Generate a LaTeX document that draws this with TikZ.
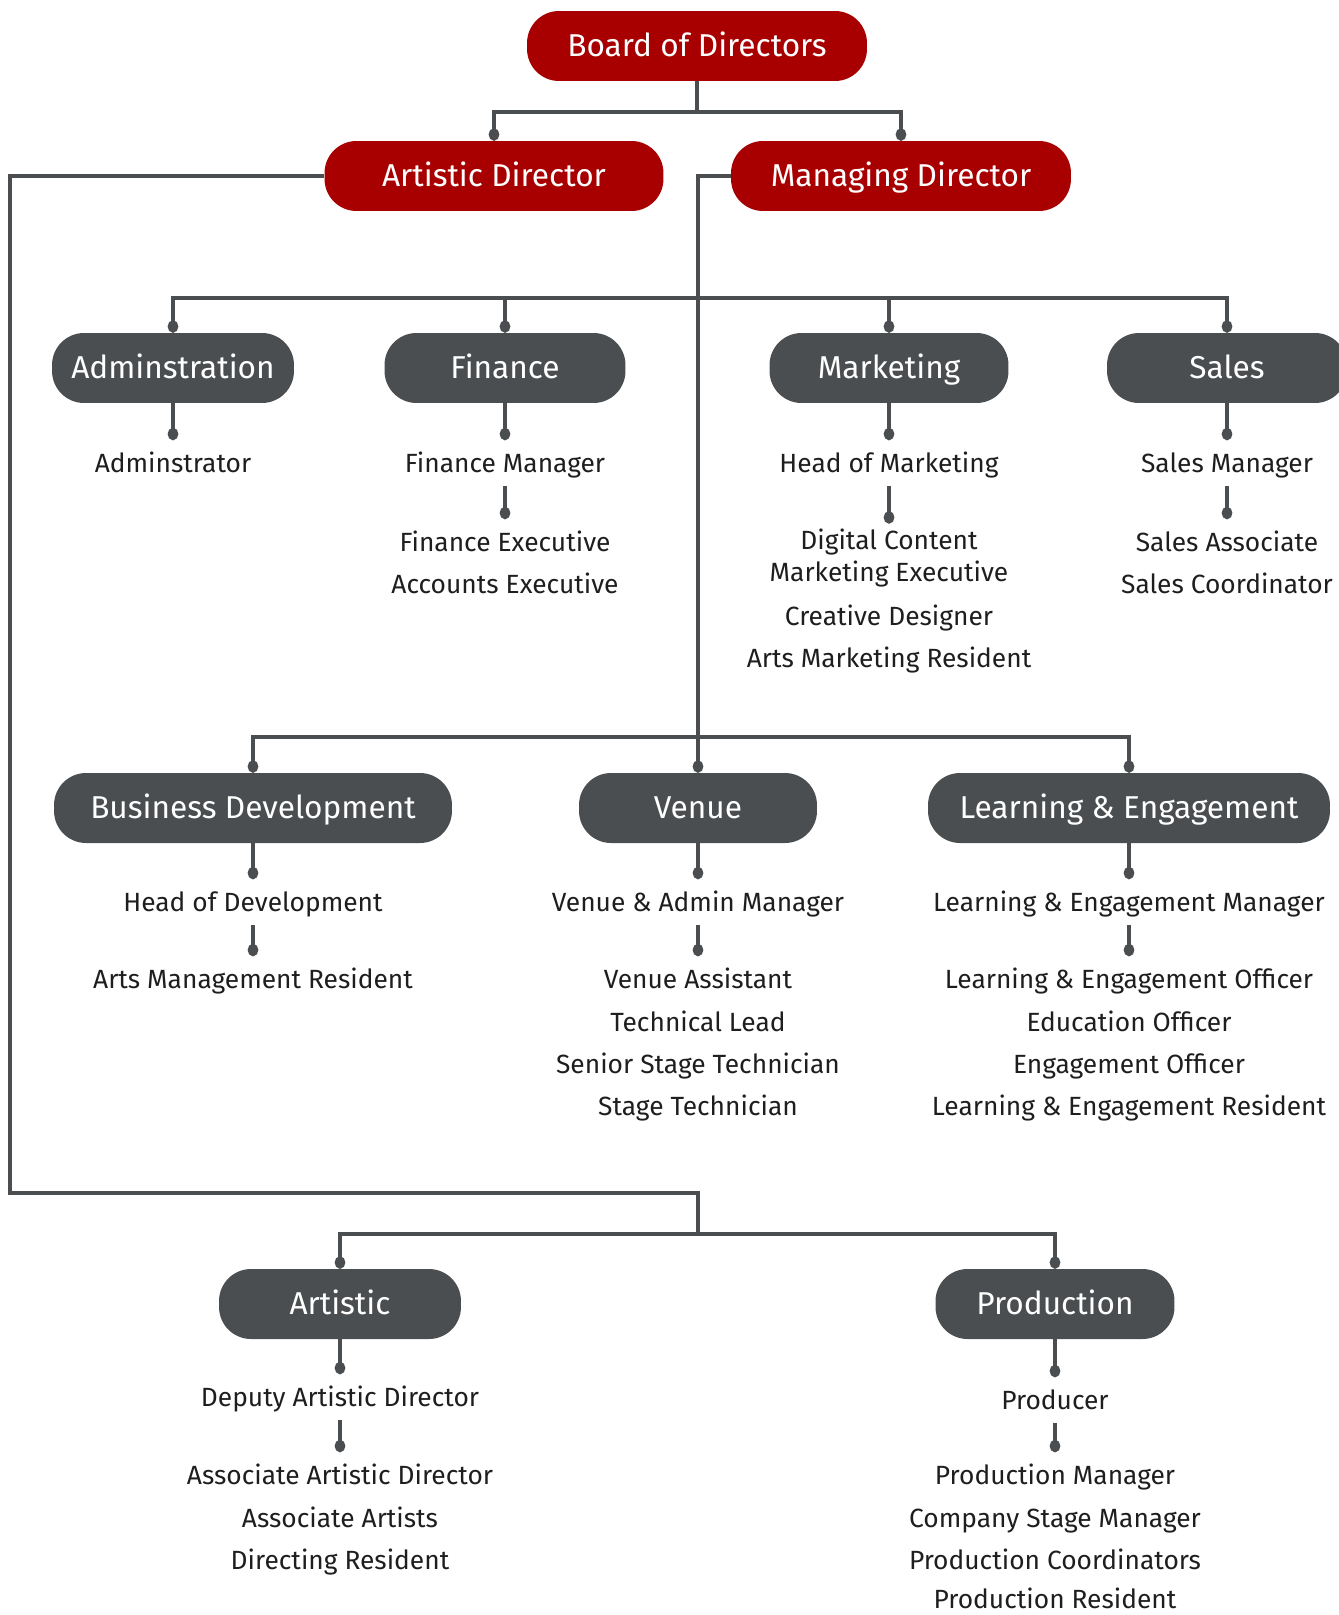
\documentclass[tikz,border=0pt]{standalone}
\usepackage{fontspec}
\setmainfont{Fira Sans}
\usetikzlibrary{arrows.meta,positioning}
\definecolor{boardred}{HTML}{A80000}
\definecolor{deptgrey}{HTML}{4B4E50}
\definecolor{roletext}{HTML}{1E1E1E}
\tikzset{
 unit/.style={rectangle, rounded corners=0.64cm, minimum height=1.4cm, inner sep=0pt, text height=12.4pt, text depth=0pt, text=white, font=\fontsize{18}{21}\selectfont},
 exec/.style={unit, fill=boardred},
 dept/.style={unit, fill=deptgrey},
 rolebase/.style={inner sep=0pt, minimum height=0.9cm, align=center, text=roletext, font=\fontsize{15}{18.2}\selectfont},
 role/.style={rolebase, text height=10.3pt, text depth=0pt},
 link/.style={draw=deptgrey, line width=2.3pt},
 conn/.style={link, -{Circle[length=7pt,width=6pt]}}
}
\begin{document}
\begin{tikzpicture}[x=0.02cm, y=-0.02cm]
 \useasboundingbox (0,0) rectangle (1338,1615);
 % top
 \node (board) [exec, minimum width=6.8cm] at (697,46) {Board of Directors};
 \node (ad) [exec, minimum width=6.78cm] at (494,176) {Artistic Director};
 \node (md) [exec, minimum width=6.8cm] at (901,176) {Managing Director};

 % junctions
 \coordinate (j1) at (698,298);
 \coordinate (j2) at (698,737);
 \coordinate (j3) at (698,1234);

 % departments
 \node (admin) [dept, minimum width=4.84cm] at (173,368) {Adminstration};
 \node (fin) [dept, minimum width=4.82cm] at (505,368) {Finance};
 \node (mkt) [dept, minimum width=4.78cm] at (889,368) {Marketing};
 \node (sales) [dept, minimum width=4.8cm] at (1227,368) {Sales};
 \node (bd) [dept, minimum width=7.96cm] at (253,808) {Business Development};
 \node (venue) [dept, minimum width=4.76cm] at (698,808) {Venue};
 \node (le) [dept, minimum width=8.04cm] at (1129,808) {Learning \& Engagement};
 \node (art) [dept, minimum width=4.84cm] at (340,1304) {Artistic};
 \node (prod) [dept, minimum width=4.78cm] at (1055,1304) {Production};

 % roles
 \node (adm1) [role] at (173,463) {Adminstrator};
 \node (fin1) [role] at (505,463) {Finance Manager};
 \node (fin2) [role] at (505,542) {Finance Executive};
 \node (fin3) [role] at (505,584) {Accounts Executive};
 \node (mkt1) [role] at (889,463) {Head of Marketing};
 \node (mkt2) [rolebase, inner ysep=0.1cm] at (889,558) {Digital Content\\Marketing Executive};
 \node (mkt3) [role] at (889,616) {Creative Designer};
 \node (mkt4) [role] at (889,658) {Arts Marketing Resident};
 \node (sal1) [role] at (1227,463) {Sales Manager};
 \node (sal2) [role] at (1227,542) {Sales Associate};
 \node (sal3) [role] at (1227,584) {Sales Coordinator};
 \node (bd1) [role] at (253,902) {Head of Development};
 \node (bd2) [role] at (253,979) {Arts Management Resident};
 \node (ven1) [role] at (698,902) {Venue \& Admin Manager};
 \node (ven2) [role] at (698,979) {Venue Assistant};
 \node (ven3) [role] at (698,1022) {Technical Lead};
 \node (ven4) [role] at (698,1064) {Senior Stage Technician};
 \node (ven5) [role] at (698,1106) {Stage Technician};
 \node (le1) [role] at (1129,902) {Learning \& Engagement Manager};
 \node (le2) [role] at (1129,979) {Learning \& Engagement Officer};
 \node (le3) [role] at (1129,1022) {Education Officer};
 \node (le4) [role] at (1129,1064) {Engagement Officer};
 \node (le5) [role] at (1129,1106) {Learning \& Engagement Resident};
 \node (art1) [role] at (340,1397) {Deputy Artistic Director};
 \node (art2) [role] at (340,1475) {Associate Artistic Director};
 \node (art3) [role] at (340,1518) {Associate Artists};
 \node (art4) [role] at (340,1560) {Directing Resident};
 \node (prod1) [role] at (1055,1400) {Producer};
 \node (prod2) [role] at (1055,1475) {Production Manager};
 \node (prod3) [role] at (1055,1518) {Company Stage Manager};
 \node (prod4) [role] at (1055,1560) {Production Coordinators};
 \node (prod5) [role] at (1055,1599) {Production Resident};

 % board connectors
 \draw[conn] (board.south) -- ++(0,31) -| (ad.north);
 \draw[conn] (board.south) -- ++(0,31) -| (md.north);

 % spines
 \draw[link] (md.west) -| (j2);
 \draw[link] (ad.west) -| (10,1193) -| (j3);

 % department connectors
 \foreach \d in {admin,fin,mkt,sales} {
  \draw[conn] (j1) -| (\d.north);
 }
 \foreach \d in {bd,venue,le} {
  \draw[conn] (j2) -| (\d.north);
 }
 \foreach \d in {art,prod} {
  \draw[conn] (j3) -| (\d.north);
 }

 % role connectors
 \foreach \a/\b in {admin/adm1,fin/fin1,mkt/mkt1,sales/sal1,bd/bd1,venue/ven1,le/le1,art/art1,prod/prod1} {
  \draw[conn] (\a.south) -- (\a.south |- \b.north);
 }
 \foreach \a/\b in {fin1/fin2,mkt1/mkt2,sal1/sal2,bd1/bd2,ven1/ven2,le1/le2,art1/art2,prod1/prod2} {
  \draw[conn] (\a.south) -- (\a.south |- \b.north);
 }
\end{tikzpicture}
\end{document}
